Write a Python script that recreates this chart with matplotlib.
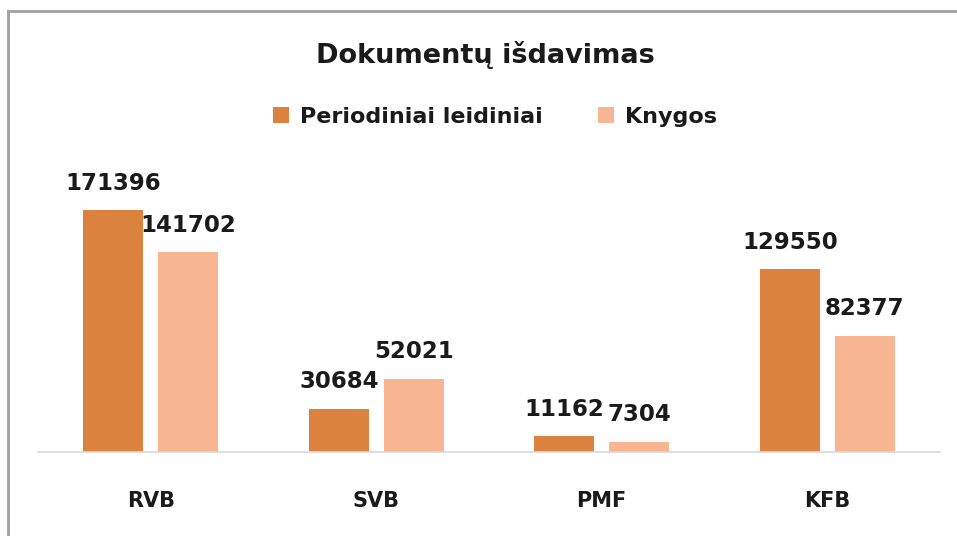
import numpy as np
import matplotlib.pyplot as plt
from matplotlib.lines import Line2D

categories = ["RVB", "SVB", "PMF", "KFB"]
series_names = ["Periodiniai leidiniai", "Knygos"]
periodiniai = [171396, 30684, 11162, 129550]
knygos = [141702, 52021, 7304, 82377]

c_orange = "#DA823E"
c_pink = "#F8B592"

fig = plt.figure(figsize=(9.57, 5.36), dpi=100)
W, H = 957, 536
ax = fig.add_axes([38 / W, (H - 452) / H, 902 / W, 302 / H])

x = np.arange(len(categories))
bw = 0.266
off = 0.166
b1 = ax.bar(x - off, periodiniai, bw, color=c_orange, label=series_names[0])
b2 = ax.bar(x + off, knygos, bw, color=c_pink, label=series_names[1])

ax.set_xlim(-0.5, 3.5)
ax.set_ylim(0, 213880)

for bars in (b1, b2):
	for r in bars:
		ax.annotate(str(int(r.get_height())), (r.get_x() + r.get_width() / 2, r.get_height()),
			xytext=(0, 11), textcoords="offset points", ha="center", va="bottom",
			fontsize=16.5, fontweight="bold", color="#1a1a1a", annotation_clip=False)

for s in ["top", "left", "right"]:
	ax.spines[s].set_visible(False)
ax.spines["bottom"].set_color("#D9D9D9")
ax.spines["bottom"].set_linewidth(1.2)
ax.set_yticks([])
ax.set_xticks(x)
ax.set_xticklabels(categories, fontsize=15, fontweight="bold", color="#1a1a1a")
ax.tick_params(axis="x", length=0, pad=28)

fig.text(485 / W, 1 - 55 / H, "Dokumentų išdavimas", ha="center", va="center",
	fontsize=19.5, fontweight="bold", color="#1a1a1a")

leg = fig.legend(handles=[b1, b2], labels=series_names, loc="center", bbox_to_anchor=(495 / W, 1 - 117 / H),
	ncol=2, frameon=False, fontsize=16, handlelength=0.7, handleheight=0.7, columnspacing=2.5, handletextpad=0.5)
for t in leg.get_texts():
	t.set_fontweight("semibold")
	t.set_color("#1a1a1a")

# chart border (cropped on right/bottom)
fig.add_artist(Line2D([8 / W, 1], [1 - 11 / H, 1 - 11 / H], color="#A0A0A0", lw=2))
fig.add_artist(Line2D([8 / W, 8 / W], [0, 1 - 11 / H], color="#A0A0A0", lw=2))

fig.savefig("out.png", dpi=100)
